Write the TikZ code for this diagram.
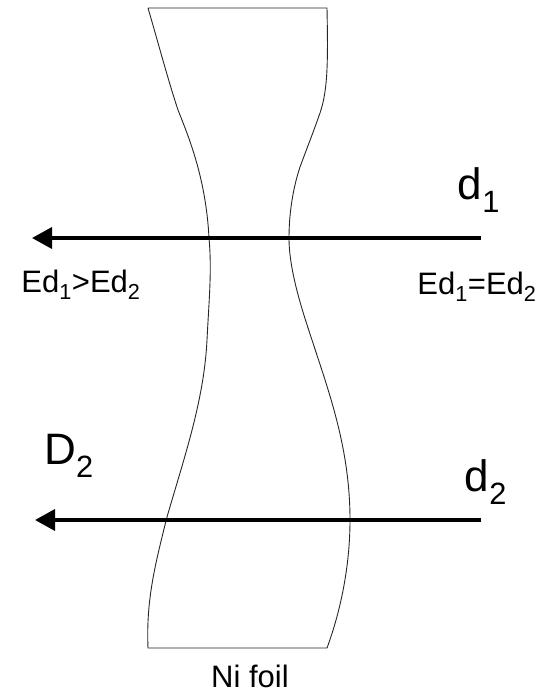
\documentclass[tikz,border=0pt]{standalone}
\usepackage{fontspec}
\setmainfont{Liberation Sans}
\usetikzlibrary{arrows.meta}
\tikzset{
    beam/.style={-{Triangle[length=20pt, width=21pt]}, line width=3.6pt, black},
    foil/.style={draw, line width=0.9pt, black!85},
    big/.style={font=\fontsize{44}{44}\selectfont, inner sep=0pt},
    note/.style={font=\fontsize{31}{31}\selectfont, inner sep=0pt},
}

\begin{document}
\begin{tikzpicture}[x=1pt, y=-1pt]
    \path[use as bounding box] (0,0) rectangle (555,693);

    \coordinate (beamonestart) at (481,238);
    \coordinate (beamoneend) at (32,238);
    \coordinate (beamtwostart) at (481,520);
    \coordinate (beamtwoend) at (35,520);

    % foil outline
    \draw[foil] (148,8) -- (327,8)
        .. controls (328,60) and (328,90) .. (320,113)
        .. controls (313,133) and (307,148) .. (300,167)
        .. controls (294,185) and (289,210) .. (289,238)
        .. controls (289,270) and (302,310) .. (312,340)
        .. controls (330,395) and (350,450) .. (350,520)
        .. controls (350,565) and (341,610) .. (327,648)
        -- (148,648)
        .. controls (146,600) and (155,565) .. (167,517)
        .. controls (185,455) and (204,400) .. (207,340)
        .. controls (209,300) and (212,270) .. (209,238)
        .. controls (206,180) and (190,140) .. (178,110)
        .. controls (168,80) and (156,35) .. (148,8);

    \draw[beam] (beamonestart) -- (beamoneend);
    \draw[beam] (beamtwostart) -- (beamtwoend);

    \node[big] (dione) at (479,190) {d\textsubscript{1}};
    \node[big] (ditwo) at (486,482) {d\textsubscript{2}};
    \node[big] (dee) at (69,456) {D\textsubscript{2}};
    \node[note] (left) at (81,285) {Ed\textsubscript{1}>Ed\textsubscript{2}};
    \node[note] (right) at (477,287) {Ed\textsubscript{1}=Ed\textsubscript{2}};
    \node[note] (foillabel) at (250,676) {Ni foil};
\end{tikzpicture}
\end{document}
